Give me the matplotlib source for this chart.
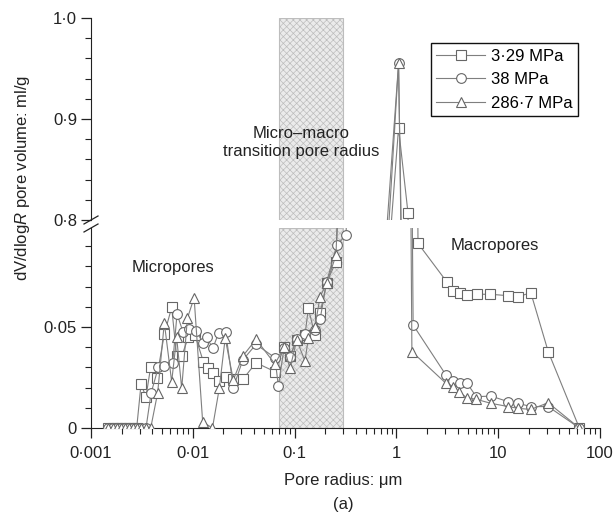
import numpy as np
import matplotlib
matplotlib.use("Agg")
import matplotlib.pyplot as plt
from matplotlib.lines import Line2D
from matplotlib.ticker import FixedLocator, NullFormatter

plt.rcParams['font.family'] = ['Liberation Sans', 'DejaVu Sans']
plt.rcParams['mathtext.fontset'] = 'custom'
plt.rcParams['mathtext.it'] = 'Liberation Sans:italic'
plt.rcParams['mathtext.rm'] = 'Liberation Sans'
plt.rcParams['hatch.linewidth'] = 0.5

# pore radius (um) and dV/dlogR (ml/g) for each confining pressure
zeros_x = [0.00148, 0.00163, 0.00179, 0.00196, 0.00214, 0.00234, 0.00257, 0.00281]

sq_x = zeros_x + [0.0031, 0.00347, 0.00386, 0.00442, 0.00525, 0.0062, 0.00694, 0.00778,
                  0.00904, 0.0105, 0.0127, 0.0142, 0.0159, 0.018, 0.021, 0.025, 0.031,
                  0.0418, 0.0641, 0.0787, 0.0902, 0.1048, 0.1265, 0.1364, 0.1585, 0.178,
                  0.2066, 0.255, 1.05, 1.3, 1.63, 3.12, 3.62, 4.2, 4.98, 6.24, 8.3, 12.6,
                  15.8, 20.9, 31, 62.7]
sq_y = [0] * 8 + [0.0216, 0.0155, 0.0304, 0.0249, 0.0464, 0.0597, 0.0356, 0.0356,
                  0.0449, 0.046, 0.0328, 0.0295, 0.0271, 0.0233, 0.0254, 0.0241, 0.0241,
                  0.0323, 0.0279, 0.040, 0.0356, 0.0435, 0.046, 0.0592, 0.046, 0.0568,
                  0.072, 0.0823, 0.891, 0.807, 0.0914, 0.0724, 0.068, 0.067, 0.0658,
                  0.0662, 0.0662, 0.0655, 0.065, 0.067, 0.0378, 0]

ci_x = zeros_x + [0.0031, 0.00347, 0.00389, 0.00458, 0.0052, 0.00635, 0.0070, 0.0080,
                  0.0092, 0.0107, 0.0127, 0.0137, 0.0157, 0.0179, 0.021, 0.025, 0.031,
                  0.0418, 0.0641, 0.0692, 0.0787, 0.0902, 0.1048, 0.1265, 0.1585, 0.178,
                  0.2066, 0.26, 0.32, 1.05, 1.46, 3.07, 3.6, 4.2, 4.9, 6.1, 8.5, 12.6,
                  15.8, 20.9, 31, 62.7]
ci_y = [0] * 10 + [0.0172, 0.030, 0.0307, 0.0323, 0.0564, 0.0477, 0.0489, 0.0482,
                   0.042, 0.0449, 0.0394, 0.0469, 0.0477, 0.020, 0.0337, 0.0414, 0.0348,
                   0.0208, 0.0394, 0.0353, 0.0439, 0.0465, 0.0485, 0.0538, 0.0724, 0.0906,
                   0.0955, 0.955, 0.051, 0.0262, 0.0233, 0.0224, 0.0224, 0.0155, 0.0158,
                   0.013, 0.0122, 0.0106, 0.0106, 0]

tr_x = zeros_x + [0.0031, 0.00347, 0.00386, 0.00452, 0.00525, 0.0062, 0.00694, 0.00778,
                  0.00885, 0.0103, 0.0125, 0.0156, 0.0182, 0.0208, 0.025, 0.031, 0.0418,
                  0.0641, 0.0787, 0.0902, 0.1048, 0.1265, 0.1364, 0.1585, 0.178, 0.2066,
                  0.255, 1.05, 1.42, 3.07, 3.6, 4.1, 4.9, 6.1, 8.5, 12.6, 15.8, 20.9, 31,
                  62.7]
tr_y = [0] * 11 + [0.0175, 0.0521, 0.0229, 0.0449, 0.0196, 0.0543, 0.0645, 0.003, 0,
                   0.0196, 0.0444, 0.0238, 0.0356, 0.0439, 0.0317, 0.0399, 0.0295, 0.0435,
                   0.0332, 0.0444, 0.0502, 0.065, 0.0716, 0.0856, 0.955, 0.0378, 0.0221,
                   0.0205, 0.018, 0.015, 0.0142, 0.0122, 0.0106, 0.0097, 0.0092, 0.0125, 0]

labels = ['3·29 MPa', '38 MPa', '286·7 MPa']
markers = ['s', 'o', '^']
transition = (0.07, 0.3)

W, H = 614, 522
fig = plt.figure(figsize=(W / 100, H / 100), dpi=100)
ax_top = fig.add_axes([91 / W, 1 - 220 / H, 509 / W, 202 / H])
ax_bot = fig.add_axes([91 / W, 94 / H, 509 / W, 200 / H])

line_c = '#7f7f7f'
mk_c = '#666666'
ink = '#222222'

series = [(sq_x, sq_y), (ci_x, ci_y), (tr_x, tr_y)]
for ax in (ax_top, ax_bot):
    ax.axvspan(*transition, facecolor='#ebebeb', edgecolor='#bdbdbd',
               hatch='xxxxx', lw=0.8, zorder=0)
    handles = []
    for (x, y), m, lab in zip(series, markers, labels):
        h, = ax.plot(x, y, color=line_c, lw=0.8, marker=m, ms=7 if m != 's' else 6.5,
                     mfc='white', mec=mk_c, mew=0.8, label=lab, zorder=3)
        handles.append(h)
    ax.set_xscale('log')
    ax.set_xlim(0.001, 100)
    ax.set_facecolor('none')
    for s in ('top', 'right'):
        ax.spines[s].set_visible(False)
    ax.spines['left'].set_color(ink)
    ax.spines['bottom'].set_color(ink)
    ax.tick_params(axis='both', which='major', direction='out', length=7,
                   width=0.9, color=ink, labelsize=12, labelcolor=ink, pad=3)
    ax.tick_params(axis='both', which='minor', direction='out', length=4,
                   width=0.8, color=ink)

# upper panel: 0.8-1.0
ax_top.set_ylim(0.8, 1.0)
ax_top.spines['bottom'].set_visible(False)
ax_top.tick_params(axis='x', which='both', bottom=False, labelbottom=False)
ax_top.yaxis.set_major_locator(FixedLocator([0.8, 0.9, 1.0]))
ax_top.set_yticklabels(['0·8', '0·9', '1·0'])
ax_top.yaxis.set_minor_locator(FixedLocator([0.82, 0.84, 0.86, 0.88, 0.92, 0.94, 0.96, 0.98]))

# lower panel: 0-0.1
ax_bot.set_ylim(0, 0.099)
ax_bot.yaxis.set_major_locator(FixedLocator([0, 0.05]))
ax_bot.set_yticklabels(['0', '0·05'])
ax_bot.yaxis.set_minor_locator(FixedLocator([0.01, 0.02, 0.03, 0.04, 0.06, 0.07, 0.08, 0.09]))
xt = [0.001, 0.01, 0.1, 1, 10, 100]
ax_bot.xaxis.set_major_locator(FixedLocator(xt))
ax_bot.set_xticklabels(['0·001', '0·01', '0·1', '1', '10', '100'])
ax_bot.tick_params(axis='x', which='major', pad=6)
minor_x = [d * k for d in (0.001, 0.01, 0.1, 1, 10) for k in range(2, 10)]
ax_bot.xaxis.set_minor_locator(FixedLocator(minor_x))
ax_bot.xaxis.set_minor_formatter(NullFormatter())

# axis break marks
for yb in (220, 228):
    fig.add_artist(Line2D([84 / W, 98 / W], [1 - (yb + 4) / H, 1 - (yb - 4) / H],
                          color=ink, lw=0.9))

ax_top.legend(handles=handles, loc='upper right', bbox_to_anchor=(0.957, 0.876),
              fontsize=12, frameon=True, fancybox=False, edgecolor='#111111',
              framealpha=1, handlelength=2.9, handletextpad=0.35, labelspacing=0.5,
              borderpad=0.35, borderaxespad=0).get_frame().set_linewidth(1.0)

ax_bot.text(0.0064, 0.0795, 'Micropores', fontsize=12, color=ink, ha='center', va='center')
ax_bot.text(9.3, 0.0905, 'Macropores', fontsize=12, color=ink, ha='center', va='center')
ax_top.text(0.1157, 0.877, 'Micro–macro\ntransition pore radius', fontsize=12,
            color=ink, ha='center', va='center', linespacing=1.25, zorder=5)

fig.text(343 / W, 1 - 480 / H, 'Pore radius: μm', fontsize=12, color=ink,
         ha='center', va='center')
fig.text(343 / W, 1 - 504 / H, '(a)', fontsize=12, color=ink, ha='center', va='center')
fig.text(23 / W, 1 - 178 / H, 'dV/dlog$\\mathit{R}$ pore volume: ml/g', fontsize=12,
         color=ink, ha='center', va='center', rotation=90)

fig.savefig('out.png', dpi=100)
